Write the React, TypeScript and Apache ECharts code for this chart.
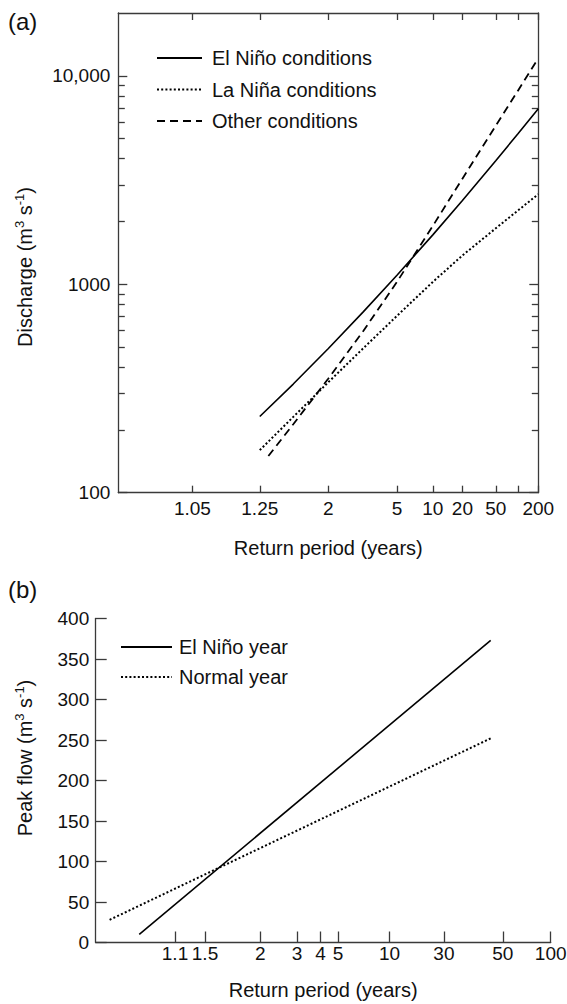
import React, { useEffect, useRef } from "react";
import * as echarts from "echarts";

// ---------- Panel (a): flood frequency (log discharge vs. normal-probability return period)
const aReturnPeriods = [1.25, 1.5, 2, 3, 5, 10, 20, 50, 100, 200];
const aElNino = [232, 332, 492, 739, 1105, 1725, 2524, 3915, 5267, 6937];
const aLaNina = [160, 231, 339, 494, 705, 1026, 1374, 1854, 2259, 2704];
const aOtherReturnPeriods = [1.3, 1.5, 2, 3, 5, 10, 20, 50, 100, 200];
const aOther = [150, 213, 353, 598, 1026, 1903, 3209, 5753, 8483, 12120];

const aXRangeT = [1.005, 200];
const aTickT = [1.05, 1.25, 2, 5, 10, 20, 50, 100, 200];
const aLabelT = [1.05, 1.25, 2, 5, 10, 20, 50, 200];
const aLabelText = ["1.05", "1.25", "2", "5", "10", "20", "50", "200"];
const aYMajor = [100, 1000, 10000];
const aYMinor = [200, 300, 400, 500, 600, 700, 800, 900, 2000, 3000, 4000, 5000, 6000, 7000, 8000, 9000];
const aYRange = [100, 20000];

// ---------- Panel (b): peak flow vs. Gumbel return period
const bElNinoT = [1.018, 42];
const bElNinoQ = [10, 373];
const bNormalT = [1.002, 42];
const bNormalQ = [28, 252];
const bTickT = [1.1, 1.27, 2, 3, 4, 5, 10, 21.5, 50, 100];
const bTickLabels = ["1.1", "1.5", "2", "3", "4", "5", "10", "30", "50", "100"];
const bXMinReduced = -2.03;
const bYRange = [0, 400];
const bYInterval = 50;

const FONT = "'Liberation Sans', Arial, Helvetica, sans-serif";
const INK = "#111";
const AXIS = "#3a3a3a";

// inverse standard normal CDF (Acklam)
function probit(p: number): number {
  const a = [-3.969683028665376e1, 2.209460984245205e2, -2.759285104469687e2, 1.38357751867269e2, -3.066479806614716e1, 2.506628277459239];
  const b = [-5.447609879822406e1, 1.615858368580409e2, -1.556989798598866e2, 6.680131188771972e1, -1.328068155288572e1];
  const c = [-7.784894002430293e-3, -3.223964580411365e-1, -2.400758277161838, -2.549732539343734, 4.374664141464968, 2.938163982698783];
  const d = [7.784695709041462e-3, 3.224671290700398e-1, 2.445134137142996, 3.754408661907416];
  const pl = 0.02425;
  if (p < pl) {
    const q = Math.sqrt(-2 * Math.log(p));
    return (((((c[0] * q + c[1]) * q + c[2]) * q + c[3]) * q + c[4]) * q + c[5]) / ((((d[0] * q + d[1]) * q + d[2]) * q + d[3]) * q + 1);
  }
  if (p <= 1 - pl) {
    const q = p - 0.5;
    const r = q * q;
    return ((((((a[0] * r + a[1]) * r + a[2]) * r + a[3]) * r + a[4]) * r + a[5]) * q) / (((((b[0] * r + b[1]) * r + b[2]) * r + b[3]) * r + b[4]) * r + 1);
  }
  const q = Math.sqrt(-2 * Math.log(1 - p));
  return -(((((c[0] * q + c[1]) * q + c[2]) * q + c[3]) * q + c[4]) * q + c[5]) / ((((d[0] * q + d[1]) * q + d[2]) * q + d[3]) * q + 1);
}
const zOfT = (t: number) => probit(1 - 1 / t);
const gumbelOfT = (t: number) => -Math.log(-Math.log(1 - 1 / t));

const aTickZ = aTickT.map(zOfT);
const aLabelZ = aLabelT.map(zOfT);
const bTickG = bTickT.map(gumbelOfT);

const labelFor = (vals: number[], texts: string[]) => (v: number) => {
  for (let i = 0; i < vals.length; i++) if (Math.abs(vals[i] - v) < 1e-6) return texts[i];
  return "";
};

const lineSolid = { color: "#000", width: 1.6, type: "solid" as const };
const lineDotted = { color: "#000", width: 2, type: [2, 2.2], cap: "butt" as const };
const lineDashed = { color: "#000", width: 1.8, type: [8, 5], cap: "butt" as const };

const axisLineStyle = { color: AXIS, width: 1.3 };
const tickLabel = { color: INK, fontSize: 19, fontFamily: FONT };

function logAxis(position: "left" | "right", major: boolean, showLine: boolean, withLabels: boolean) {
  return {
    gridIndex: 0,
    type: "log",
    logBase: 10,
    min: aYRange[0],
    max: aYRange[1],
    position,
    axisLine: { show: showLine, onZero: false, lineStyle: axisLineStyle },
    axisTick: { show: true, inside: true, length: major ? 9 : 6.5, customValues: major ? aYMajor : aYMinor, lineStyle: axisLineStyle },
    axisLabel: withLabels
      ? { show: true, customValues: aYMajor, margin: 8, ...tickLabel, formatter: (v: number) => (Math.round(v) === 10000 ? "10,000" : String(Math.round(v))) }
      : { show: false },
    splitLine: { show: false },
    minorTick: { show: false },
  };
}

const legendText = { color: INK, fontSize: 20, fontFamily: FONT, lineHeight: 20 };

const option: any = {
  animation: false,
  backgroundColor: "#fff",
  textStyle: { fontFamily: FONT },
  grid: [
    { left: 118.3, top: 13, width: 420, height: 479.7, outerBoundsMode: "none", containLabel: false },
    { left: 95.7, top: 618.5, width: 455, height: 324, outerBoundsMode: "none", containLabel: false },
  ],
  xAxis: [
    {
      gridIndex: 0,
      type: "value",
      position: "bottom",
      min: zOfT(aXRangeT[0]),
      max: zOfT(aXRangeT[1]),
      axisLine: { show: true, onZero: false, lineStyle: axisLineStyle },
      axisTick: { show: true, inside: true, length: 7, customValues: aTickZ, lineStyle: axisLineStyle },
      axisLabel: { show: true, customValues: aLabelZ, margin: 6.5, ...tickLabel, formatter: labelFor(aLabelZ, aLabelText) },
      splitLine: { show: false },
      name: "Return period (years)",
      nameLocation: "middle",
      nameGap: 45,
      nameTextStyle: { color: INK, fontSize: 20, fontFamily: FONT },
    },
    {
      gridIndex: 0,
      type: "value",
      position: "top",
      min: zOfT(aXRangeT[0]),
      max: zOfT(aXRangeT[1]),
      axisLine: { show: true, onZero: false, lineStyle: axisLineStyle },
      axisTick: { show: true, inside: true, length: 7, customValues: aTickZ, lineStyle: axisLineStyle },
      axisLabel: { show: false },
      splitLine: { show: false },
    },
    {
      gridIndex: 1,
      type: "value",
      position: "bottom",
      min: bXMinReduced,
      max: gumbelOfT(100),
      axisLine: { show: true, onZero: false, lineStyle: axisLineStyle },
      axisTick: { show: true, inside: true, length: 11, customValues: bTickG, lineStyle: axisLineStyle },
      axisLabel: { show: true, customValues: bTickG, margin: 1.5, ...tickLabel, formatter: labelFor(bTickG, bTickLabels) },
      splitLine: { show: false },
      name: "Return period (years)",
      nameLocation: "middle",
      nameGap: 37.5,
      nameTextStyle: { color: INK, fontSize: 20, fontFamily: FONT },
    },
  ],
  yAxis: [
    logAxis("left", true, true, true),
    logAxis("left", false, false, false),
    logAxis("right", true, true, false),
    logAxis("right", false, false, false),
    {
      gridIndex: 1,
      type: "value",
      min: bYRange[0],
      max: bYRange[1],
      interval: bYInterval,
      position: "left",
      axisLine: { show: true, onZero: false, lineStyle: axisLineStyle },
      axisTick: { show: true, inside: true, length: 11, lineStyle: axisLineStyle },
      axisLabel: { show: true, margin: 6.5, ...tickLabel },
      splitLine: { show: false },
    },
  ],
  legend: [
    {
      data: ["El Niño conditions", "La Niña conditions", "Other conditions"],
      orient: "vertical",
      left: 156,
      top: 48,
      padding: 0,
      itemWidth: 45,
      itemHeight: 14,
      itemGap: 11.5,
      selectedMode: false,
      itemStyle: { opacity: 0 },
      textStyle: { ...legendText, padding: [0, 0, 0, 5] },
    },
    {
      data: ["El Niño year", "Normal year"],
      orient: "vertical",
      left: 120,
      top: 637,
      padding: 0,
      itemWidth: 51,
      itemHeight: 14,
      itemGap: 10,
      selectedMode: false,
      itemStyle: { opacity: 0 },
      textStyle: { ...legendText, padding: [0, 0, 0, 2] },
    },
  ],
  graphic: [
    { type: "text", left: 8, top: 9, style: { text: "(a)", fill: INK, font: `24px ${FONT}` } },
    { type: "text", left: 8, top: 577, style: { text: "(b)", fill: INK, font: `24px ${FONT}` } },
    {
      type: "text",
      x: 25,
      y: 267,
      rotation: Math.PI / 2,
      style: {
        text: "Discharge (m{sup|3} s{sup|-1})",
        fill: INK,
        fontSize: 20,
        fontFamily: FONT,
        lineHeight: 24,
        align: "center",
        verticalAlign: "middle",
        textAlign: "center",
        textVerticalAlign: "middle",
        rich: { sup: { fontSize: 13, fontFamily: FONT, fill: INK, verticalAlign: "top", lineHeight: 24 } },
      },
    },
    {
      type: "text",
      x: 25,
      y: 758,
      rotation: Math.PI / 2,
      style: {
        text: "Peak flow (m{sup|3} s{sup|-1})",
        fill: INK,
        fontSize: 20,
        fontFamily: FONT,
        lineHeight: 24,
        align: "center",
        verticalAlign: "middle",
        textAlign: "center",
        textVerticalAlign: "middle",
        rich: { sup: { fontSize: 13, fontFamily: FONT, fill: INK, verticalAlign: "top", lineHeight: 24 } },
      },
    },
  ],
  series: [
    {
      name: "El Niño conditions",
      type: "line",
      xAxisIndex: 0,
      yAxisIndex: 0,
      symbol: "none",
      silent: true,
      lineStyle: lineSolid,
      itemStyle: { color: "#000" },
      data: aReturnPeriods.map((t, i) => [zOfT(t), aElNino[i]]),
    },
    {
      name: "La Niña conditions",
      type: "line",
      xAxisIndex: 0,
      yAxisIndex: 0,
      symbol: "none",
      silent: true,
      lineStyle: lineDotted,
      itemStyle: { color: "#000" },
      data: aReturnPeriods.map((t, i) => [zOfT(t), aLaNina[i]]),
    },
    {
      name: "Other conditions",
      type: "line",
      xAxisIndex: 0,
      yAxisIndex: 0,
      symbol: "none",
      silent: true,
      lineStyle: lineDashed,
      itemStyle: { color: "#000" },
      data: aOtherReturnPeriods.map((t, i) => [zOfT(t), aOther[i]]),
    },
    {
      name: "El Niño year",
      type: "line",
      xAxisIndex: 2,
      yAxisIndex: 4,
      symbol: "none",
      silent: true,
      lineStyle: lineSolid,
      itemStyle: { color: "#000" },
      data: bElNinoT.map((t, i) => [gumbelOfT(t), bElNinoQ[i]]),
    },
    {
      name: "Normal year",
      type: "line",
      xAxisIndex: 2,
      yAxisIndex: 4,
      symbol: "none",
      silent: true,
      lineStyle: lineDotted,
      itemStyle: { color: "#000" },
      data: bNormalT.map((t, i) => [gumbelOfT(t), bNormalQ[i]]),
    },
  ],
};

export default function App() {
  const ref = useRef<HTMLDivElement>(null);
  useEffect(() => {
    if (!ref.current) return;
    const chart = echarts.init(ref.current, undefined, { renderer: "svg" });
    chart.setOption(option);
    return () => chart.dispose();
  }, []);
  return <div ref={ref} style={{ position: "absolute", left: 0, top: 0, width: 567, height: 1004, background: "#fff" }} />;
}
